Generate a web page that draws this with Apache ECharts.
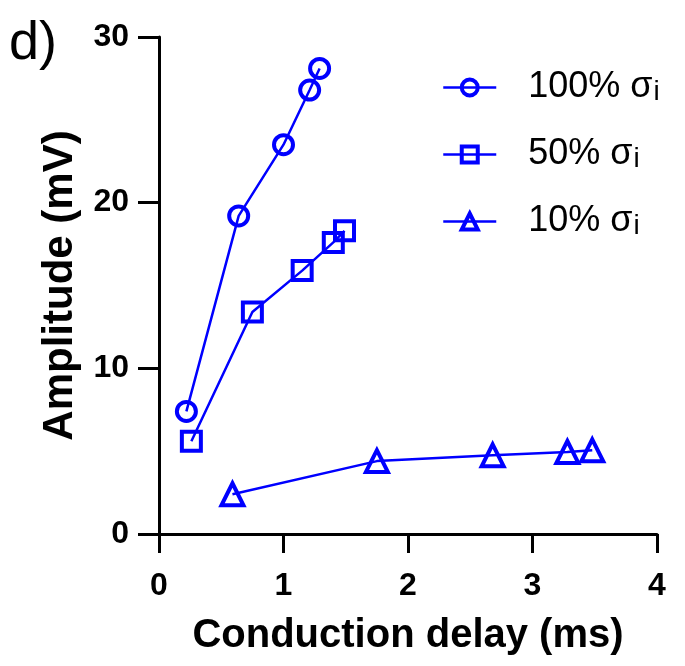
<!DOCTYPE html>
<html>
<head>
<meta charset="utf-8">
<script src="https://cdn.jsdelivr.net/npm/echarts@6/dist/echarts.min.js"></script>
<style>
  html, body { margin: 0; padding: 0; background: #fff; }
  #chart { width: 685px; height: 666px; }
</style>
</head>
<body>
<div id="chart"></div>
<script>
// conduction delay (ms) / amplitude (mV) per series
var delay100 = [0.22, 0.64, 1.0, 1.21, 1.29];
var amp100 = [7.4, 19.2, 23.5, 26.8, 28.1];
var delay50 = [0.26, 0.75, 1.15, 1.40, 1.49];
var amp50 = [5.6, 13.4, 15.9, 17.6, 18.3];
var delay10 = [0.59, 1.75, 2.68, 3.28, 3.48];
var amp10 = [2.4, 4.4, 4.75, 4.95, 5.05];
var seriesNames = ['100%', '50%', '10%'];

function pairs(xs, ys) {
  var out = [];
  for (var i = 0; i < xs.length; i++) {
    out.push([xs[i], ys[i]]);
  }
  return out;
}

var blue = '#0000ff';
var font = 'Liberation Sans, Arial, sans-serif';

function makeSeries(name, data, symbol, size) {
  return {
    name: name,
    type: 'line',
    data: data,
    symbol: symbol,
    symbolSize: size,
    color: blue,
    lineStyle: { color: blue, width: 2.5 },
    itemStyle: { color: 'rgba(255,255,255,0)', borderColor: blue, borderWidth: 4 },
    emphasis: { disabled: true }
  };
}

var myChart = echarts.init(document.getElementById('chart'));
var option = {
  animation: false,
  textStyle: { fontFamily: font },
  title: {
    text: 'd)',
    left: 4,
    top: 12,
    textStyle: { fontFamily: font, fontSize: 54, fontWeight: 'normal', color: '#000' }
  },
  legend: {
    orient: 'vertical',
    left: 442,
    top: 58,
    padding: 0,
    itemWidth: 53,
    itemHeight: 20,
    itemGap: 19,
    data: seriesNames,
    itemStyle: { borderWidth: 4 },
    lineStyle: { width: 2.5 },
    formatter: function (n) {
      return '{a|' + n + ' σ}{s|i}';
    },
    textStyle: {
      padding: [0, 0, 0, 27],
      rich: {
        a: { fontFamily: font, fontSize: 36, color: '#000', lineHeight: 37 },
        s: { fontFamily: font, fontSize: 28, color: '#000', verticalAlign: 'bottom', padding: [20, 0, 0, 1], lineHeight: 37 }
      }
    }
  },
  grid: { left: 159, top: 37, width: 498, height: 497 },
  xAxis: {
    type: 'value',
    min: 0,
    max: 4,
    interval: 1,
    name: 'Conduction delay (ms)',
    nameLocation: 'middle',
    nameGap: 82,
    nameTextStyle: { fontFamily: font, fontSize: 40, fontWeight: 'bold', color: '#000' },
    axisLine: { show: true, onZero: false, lineStyle: { color: '#000', width: 3 } },
    axisTick: { show: true, length: 19, lineStyle: { color: '#000', width: 3 } },
    axisLabel: { margin: 36, fontFamily: font, fontSize: 32, fontWeight: 'bold', color: '#000' },
    splitLine: { show: false }
  },
  yAxis: {
    type: 'value',
    min: 0,
    max: 30,
    interval: 10,
    name: 'Amplitude (mV)',
    nameLocation: 'middle',
    nameGap: 78,
    nameTextStyle: { fontFamily: font, fontSize: 42, fontWeight: 'bold', color: '#000' },
    axisLine: { show: true, onZero: false, lineStyle: { color: '#000', width: 3 } },
    axisTick: { show: true, length: 21, lineStyle: { color: '#000', width: 3 } },
    axisLabel: { margin: 30, fontFamily: font, fontSize: 32, fontWeight: 'bold', color: '#000' },
    splitLine: { show: false }
  },
  series: [
    makeSeries(seriesNames[0], pairs(delay100, amp100), 'circle', 19),
    makeSeries(seriesNames[1], pairs(delay50, amp50), 'rect', 19),
    makeSeries(seriesNames[2], pairs(delay10, amp10), 'triangle', 22)
  ]
};

myChart.setOption(option);
</script>
</body>
</html>
